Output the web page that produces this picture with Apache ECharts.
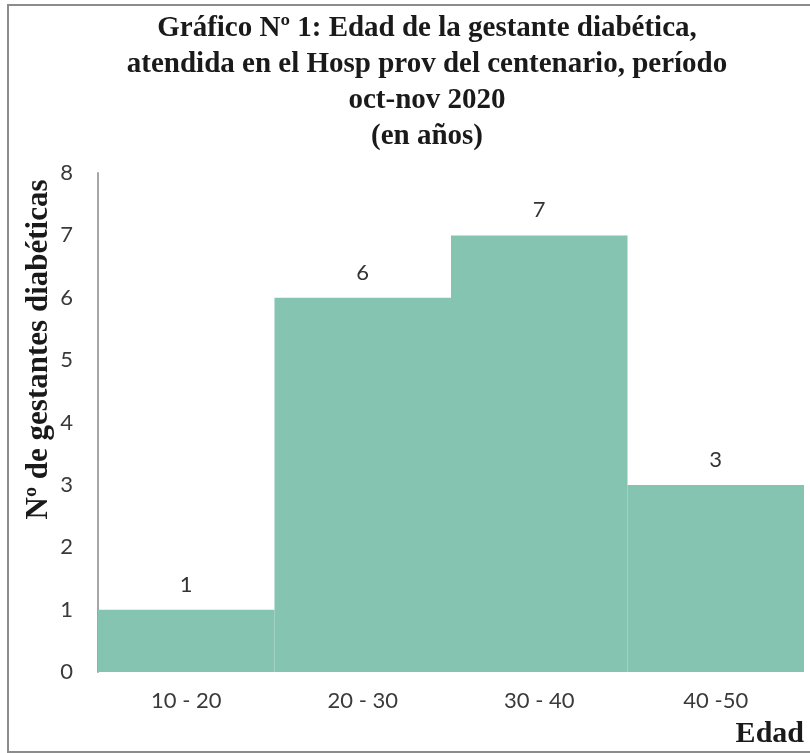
<!DOCTYPE html>
<html>
<head>
<meta charset="utf-8">
<script src="https://cdn.jsdelivr.net/npm/echarts@6/dist/echarts.min.js"></script>
<style>
  html, body { margin: 0; padding: 0; background: #ffffff; }
  #chart { width: 810px; height: 753px; }
</style>
</head>
<body>
<div id="chart"></div>
<script>
// Age groups of diabetic pregnant patients and their counts
const ageGroups = ['10 - 20', '20 - 30', '30 - 40', '40 -50'];
const patients = [1, 6, 7, 3];
const yTicks = { min: 0, max: 8, interval: 1 };

const titleLines = [
  'Gráfico Nº 1: Edad de la gestante diabética,',
  'atendida en el Hosp prov del centenario, período',
  'oct-nov 2020',
  '(en años)'
];

const serif = '"Liberation Serif", "Times New Roman", serif';
const sans = 'Lato, "Open Sans", sans-serif';

const chart = echarts.init(document.getElementById('chart'));
chart.setOption({
  animation: false,
  backgroundColor: '#ffffff',
  title: {
    text: titleLines.join('\n'),
    left: 422,
    textAlign: 'center',
    top: 6,
    textStyle: {
      fontFamily: serif,
      fontWeight: 'bold',
      fontSize: 29,
      lineHeight: 36,
      color: '#1a1a1a'
    }
  },
  graphic: [{
    type: 'rect',
    shape: { x: 8, y: 5, width: 812, height: 747 },
    style: { fill: 'none', stroke: '#8c8c8c', lineWidth: 2 },
    z: 100
  }],
  grid: { left: 98, right: 6, top: 173, bottom: 81 },
  xAxis: {
    type: 'category',
    data: ageGroups,
    name: 'Edad',
    nameLocation: 'end',
    nameGap: 0,
    nameTextStyle: {
      fontFamily: serif,
      fontWeight: 'bold',
      fontSize: 30,
      color: '#1a1a1a',
      align: 'right',
      verticalAlign: 'top',
      padding: [47, 0, 0, 0]
    },
    axisLine: { show: false },
    axisTick: { show: false },
    axisLabel: {
      margin: 18,
      fontFamily: sans,
      fontSize: 22,
      color: '#3a3a3a'
    }
  },
  yAxis: {
    type: 'value',
    min: yTicks.min,
    max: yTicks.max,
    interval: yTicks.interval,
    name: 'Nº de gestantes diabéticas',
    nameLocation: 'middle',
    nameGap: 44,
    nameMoveOverlap: false,
    nameTextStyle: {
      fontFamily: serif,
      fontWeight: 'bold',
      fontSize: 31,
      color: '#1a1a1a',
      padding: [0, 0, 0, 146]
    },
    axisLine: { show: true, lineStyle: { color: '#a6a6a6', width: 2 } },
    axisTick: { show: false },
    splitLine: { show: false },
    axisLabel: {
      margin: 25,
      fontFamily: sans,
      fontSize: 22,
      color: '#3a3a3a'
    }
  },
  series: [{
    type: 'bar',
    data: patients,
    barCategoryGap: 0,
    itemStyle: { color: '#84c4b1' },
    label: {
      show: true,
      position: 'top',
      distance: 14,
      fontFamily: sans,
      fontSize: 22,
      color: '#333333'
    }
  }]
});
</script>
</body>
</html>
